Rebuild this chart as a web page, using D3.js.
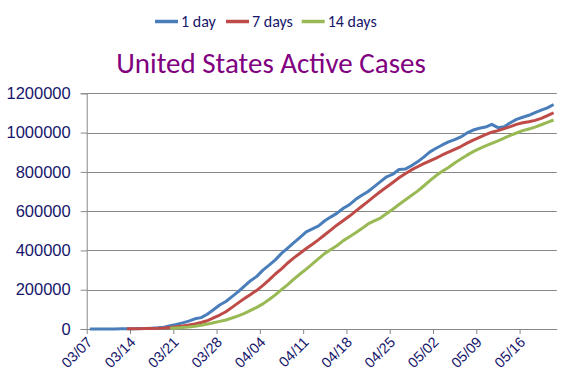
<!DOCTYPE html>
<html>
<head>
<meta charset="utf-8">
<script src="https://cdn.jsdelivr.net/npm/d3@7"></script>
<style>
  body { margin: 0; background: #fff; }
  svg { font-family: Carlito, Lato, sans-serif; }
</style>
</head>
<body>
<script>
// values, one per day from 03/07 to 05/21
const firstDay = "2020-03-07"
const tickLabels = ["03/07","03/14","03/21","03/28","04/04","04/11","04/18","04/25","05/02","05/09","05/16"]
const yTicks = [0, 200000, 400000, 600000, 800000, 1000000, 1200000]

const oneDay = [300,350,400,500,600,900,1200,1800,2400,3000,
  4200,6000,9500,17000,23000,31000,40000,52000,58000,75000,
  98000,122000,140000,165000,190000,218000,246000,268000,300000,325000,
  352000,385000,412000,440000,467000,495000,510000,525000,551000,571000,
  590000,615000,633000,660000,681000,700000,725000,750000,775000,788000,
  812000,814000,831000,851000,875000,902000,920000,937000,953000,964000,
  978000,998000,1013000,1022000,1028000,1042000,1025000,1030000,1050000,1067000,
  1078000,1088000,1102000,1114000,1126000,1143000]

const sevenDays = [null,null,null,null,null,null,900,1200,1600,2100,
  2800,3700,5500,8000,11000,15000,20000,26000,33000,42000,
  57000,71000,88000,110000,133000,155000,176000,197000,222000,250000,
  280000,306000,336000,362000,386000,410000,432000,455000,480000,505000,
  530000,552000,575000,600000,625000,650000,675000,700000,723000,746000,
  770000,790000,810000,826000,842000,856000,870000,886000,900000,914000,
  929000,946000,962000,976000,990000,1002000,1010000,1020000,1030000,1042000,
  1050000,1055000,1062000,1072000,1086000,1101000]

const fourteenDays = [null,null,null,null,null,null,null,null,null,null,
  null,null,null,4000,5500,7500,10000,14000,19000,25000,
  32000,39000,46000,56000,67000,80000,95000,110000,128000,150000,
  174000,200000,226000,254000,280000,305000,332000,358000,385000,405000,
  425000,450000,470000,490000,512000,535000,550000,565000,588000,610000,
  634000,657000,680000,702000,728000,755000,781000,803000,822000,845000,
  865000,885000,903000,918000,932000,945000,958000,972000,986000,998000,
  1010000,1018000,1028000,1040000,1052000,1064000]

const seriesNames = ["1 day", "7 days", "14 days"]
const seriesColors = ["#4a7ebb", "#be4b48", "#98b954"]
const allSeries = [oneDay, sevenDays, fourteenDays]

var svgWidth = 577
var svgHeight = 384
const plot = {left: 86.7, right: 556.7, top: 93.3, bottom: 329}
const textColor = "#16166b"
const gridColor = "#878787"

var svg = d3.select("body")
  .append("svg")
    .attr("width", svgWidth)
    .attr("height", svgHeight)

var parse = d3.timeParse("%Y-%m-%d")
var start = parse(firstDay)
var end = d3.timeDay.offset(start, oneDay.length)

var xScale = d3.scaleTime()
  .domain([start, end])
  .range([plot.left, plot.right])

var yScale = d3.scaleLinear()
  .domain([0, 1200000])
  .range([plot.bottom, plot.top])

// gridlines
svg.append("g")
  .selectAll("line")
  .data(yTicks.slice(1))
  .enter()
  .append("line")
    .attr("x1", plot.left)
    .attr("x2", plot.right)
    .attr("y1", function(d){ return Math.round(yScale(d)) + 0.5 })
    .attr("y2", function(d){ return Math.round(yScale(d)) + 0.5 })
    .attr("stroke", gridColor)
    .attr("stroke-width", 1)

// y axis
var yAxis = d3.axisLeft(yScale)
  .tickValues(yTicks)
  .tickSize(6)
  .tickPadding(10)
  .tickFormat(d3.format("d"))

var yG = svg.append("g")
  .attr("transform", "translate(" + plot.left + ",0)")
  .call(yAxis)
yG.select(".domain").attr("stroke", gridColor)
yG.selectAll(".tick line").attr("stroke", gridColor)
yG.selectAll("text")
  .attr("fill", textColor)
  .style("font-size", "16.5px")

// x axis
var tickDates = tickLabels.map(function(d, i){ return d3.timeDay.offset(start, i * 7) })

var xAxis = d3.axisBottom(xScale)
  .tickValues(tickDates)
  .tickSize(5)
  .tickSizeOuter(0)
  .tickFormat(function(d, i){ return tickLabels[i] })

var xG = svg.append("g")
  .attr("transform", "translate(0," + plot.bottom + ")")
  .call(xAxis)
xG.select(".domain").attr("stroke", gridColor)
xG.selectAll(".tick line").attr("stroke", gridColor)
xG.selectAll("text")
  .attr("fill", textColor)
  .style("font-size", "14.5px")
  .attr("text-anchor", "end")
  .attr("dy", null)
  .attr("y", 0)
  .attr("transform", "translate(6,14) rotate(-45)")

// lines
var line = d3.line()
  .defined(function(d){ return d != null })
  .x(function(d, i){ return xScale(d3.timeHour.offset(d3.timeDay.offset(start, i), 12)) })
  .y(function(d){ return yScale(d) })

svg.append("g")
  .selectAll("path")
  .data(allSeries)
  .enter()
  .append("path")
    .attr("d", line)
    .attr("fill", "none")
    .attr("stroke", function(d, i){ return seriesColors[i] })
    .attr("stroke-width", 3)
    .attr("stroke-linejoin", "round")

// title
svg.append("text")
  .attr("x", 271)
  .attr("y", 73)
  .attr("text-anchor", "middle")
  .attr("fill", "#800080")
  .style("font-size", "29px")
  .text("United States Active Cases")

// legend
const legendX = [155, 226, 301.7]
var legend = svg.append("g")
  .selectAll("g")
  .data(seriesNames)
  .enter()
  .append("g")
    .attr("transform", function(d, i){ return "translate(" + legendX[i] + ",21.5)" })

legend.append("line")
  .attr("x1", 0)
  .attr("x2", 23)
  .attr("stroke", function(d, i){ return seriesColors[i] })
  .attr("stroke-width", 3.5)

legend.append("text")
  .attr("x", 26)
  .attr("y", 5.5)
  .attr("fill", textColor)
  .style("font-size", "16px")
  .text(function(d){ return d })
</script>
</body>
</html>
